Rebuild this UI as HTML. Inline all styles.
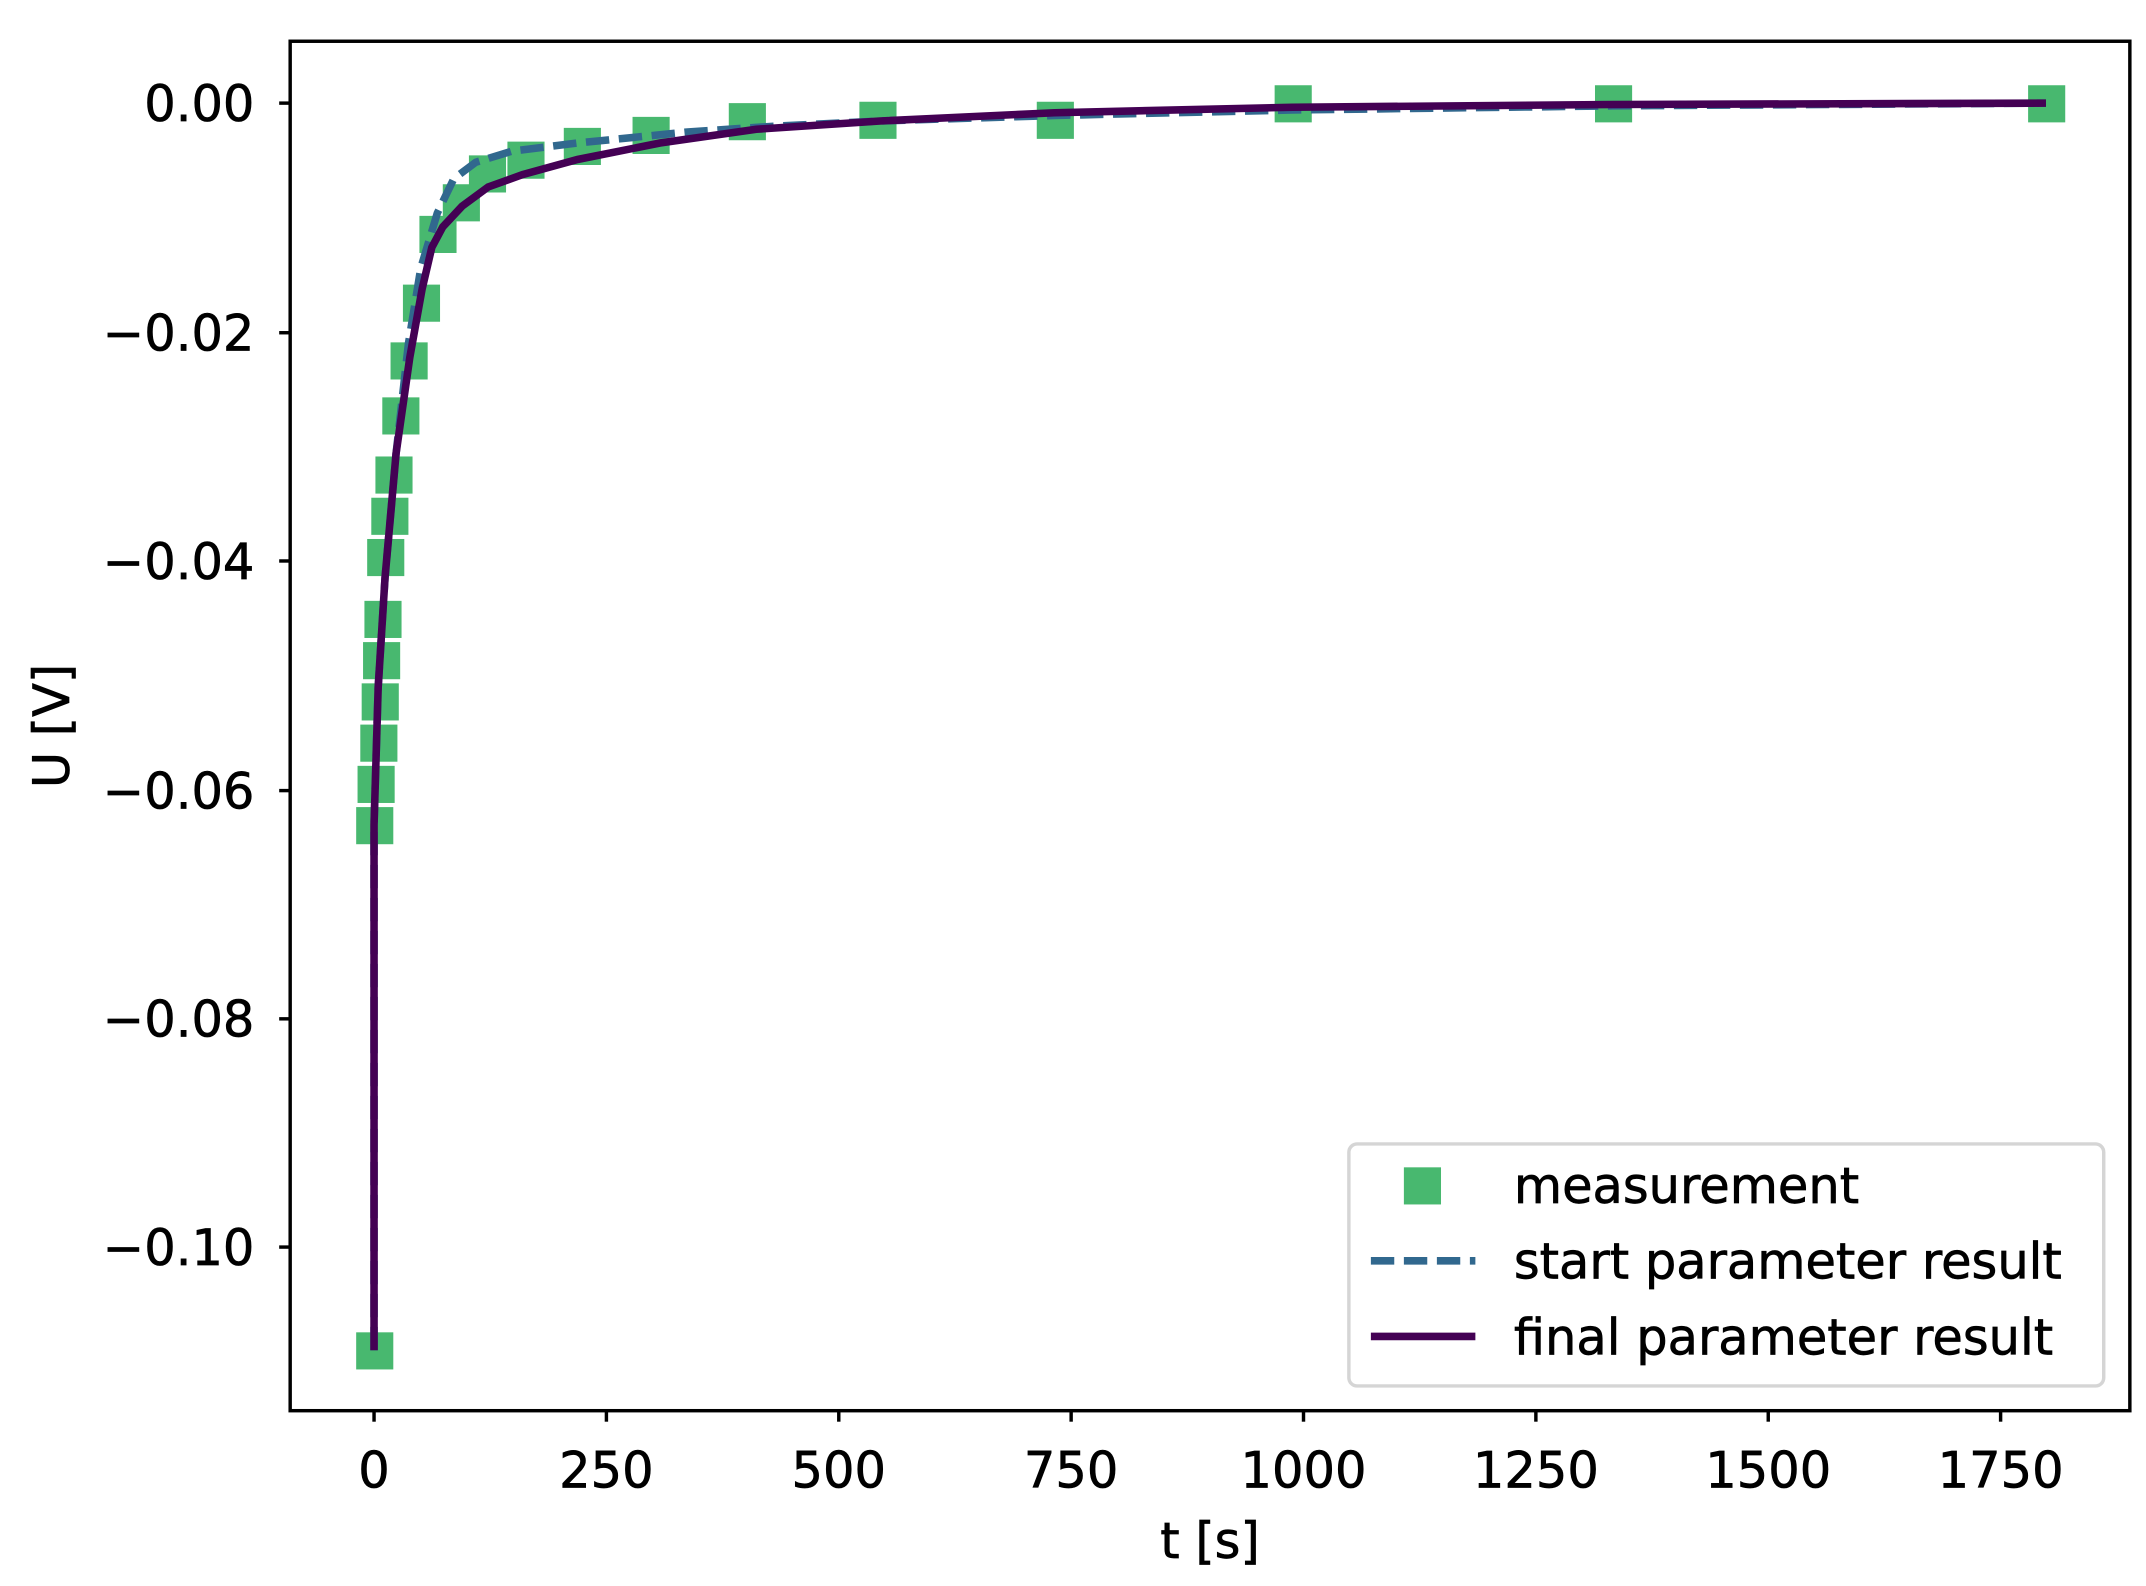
<!DOCTYPE html>
<html><head><meta charset="utf-8"><style>html,body{margin:0;padding:0;background:#fff}svg{display:block}</style></head>
<body>
<svg width="2146" height="1586" viewBox="0 0 1560.7 1153.5" xmlns="http://www.w3.org/2000/svg" font-family="DejaVu Sans, Liberation Sans, sans-serif">
<rect width="1560.7" height="1153.5" fill="#fff"/>
<g fill="#48b86f">
<rect x="259" y="969" width="27" height="27"/>
<rect x="259" y="587" width="27" height="27"/>
<rect x="260" y="557" width="27" height="27"/>
<rect x="262" y="527" width="27" height="27"/>
<rect x="263" y="497" width="27" height="27"/>
<rect x="264" y="467" width="27" height="27"/>
<rect x="265" y="437" width="27" height="27"/>
<rect x="267" y="392" width="27" height="27"/>
<rect x="270" y="362" width="27" height="27"/>
<rect x="273" y="332" width="27" height="27"/>
<rect x="278" y="289" width="27" height="27"/>
<rect x="284" y="249" width="27" height="27"/>
<rect x="293" y="207" width="27" height="27"/>
<rect x="305" y="157" width="27" height="27"/>
<rect x="322" y="134" width="27" height="27"/>
<rect x="341" y="113" width="27" height="27"/>
<rect x="369" y="103" width="27" height="27"/>
<rect x="410" y="93" width="27" height="27"/>
<rect x="460" y="85" width="27" height="27"/>
<rect x="530" y="75" width="27" height="27"/>
<rect x="625" y="74" width="27" height="27"/>
<rect x="754" y="74" width="27" height="27"/>
<rect x="927" y="62" width="27" height="27"/>
<rect x="1160" y="62" width="27" height="27"/>
<rect x="1475" y="62" width="27" height="27"/>
</g>
<polyline fill="none" stroke="#31688e" stroke-width="5.5" stroke-dasharray="17,7" points="272,982 272,600 275,500 280,420 288,330 297,250 306,195 318,155 330,130 346,118 372,110 420,104 500,96 560,92 640,88 767,84 940,80 1173,77 1488,75"/>
<polyline fill="none" stroke="#440154" stroke-width="5.5" points="272,982 272,600 275,500 280,420 288,330 298,260 307,210 314,180 322,165 336,150 355,136 380,127 420,116 480,104 550,94 640,88 767,82 940,78 1173,76 1488,75"/>
<rect x="211" y="30" width="1338" height="996" fill="none" stroke="#000" stroke-width="2.5"/>
<g stroke="#000" stroke-width="2.5">
<line x1="203" x2="211" y1="75" y2="75"/><line x1="203" x2="211" y1="242" y2="242"/><line x1="203" x2="211" y1="408" y2="408"/><line x1="203" x2="211" y1="575" y2="575"/><line x1="203" x2="211" y1="741" y2="741"/><line x1="203" x2="211" y1="907" y2="907"/>
<line x1="272" x2="272" y1="1026" y2="1034"/><line x1="441" x2="441" y1="1026" y2="1034"/><line x1="610" x2="610" y1="1026" y2="1034"/><line x1="779" x2="779" y1="1026" y2="1034"/><line x1="948" x2="948" y1="1026" y2="1034"/><line x1="1117" x2="1117" y1="1026" y2="1034"/><line x1="1286" x2="1286" y1="1026" y2="1034"/><line x1="1455" x2="1455" y1="1026" y2="1034"/>
</g>
<g font-size="36" text-anchor="end" fill="#000" stroke="#000" stroke-width="0.5">
<text x="185" y="88">0.00</text><text x="185" y="255">−0.02</text><text x="185" y="421">−0.04</text><text x="185" y="588">−0.06</text><text x="185" y="754">−0.08</text><text x="185" y="920">−0.10</text>
</g>
<g font-size="36" text-anchor="middle" fill="#000" stroke="#000" stroke-width="0.5">
<text x="272" y="1082">0</text><text x="441" y="1082">250</text><text x="610" y="1082">500</text><text x="779" y="1082">750</text><text x="948" y="1082">1000</text><text x="1117" y="1082">1250</text><text x="1286" y="1082">1500</text><text x="1455" y="1082">1750</text>
<text x="880" y="1133">t [s]</text>
<text transform="translate(50,528) rotate(-90)">U [V]</text>
</g>
<rect x="981" y="832" width="549" height="176" rx="6" fill="#fff" fill-opacity="0.8" stroke="#d5d5d5" stroke-width="2.5"/>
<rect x="1021" y="849" width="27" height="27" fill="#48b86f"/>
<line x1="997" x2="1073" y1="917" y2="917" stroke="#31688e" stroke-width="5.5" stroke-dasharray="17,7"/>
<line x1="997" x2="1073" y1="972" y2="972" stroke="#440154" stroke-width="5.5"/>
<g font-size="36" fill="#000" stroke="#000" stroke-width="0.5">
<text x="1101" y="875">measurement</text><text x="1101" y="930">start parameter result</text><text x="1101" y="985">final parameter result</text>
</g>
</svg>
</body></html>
